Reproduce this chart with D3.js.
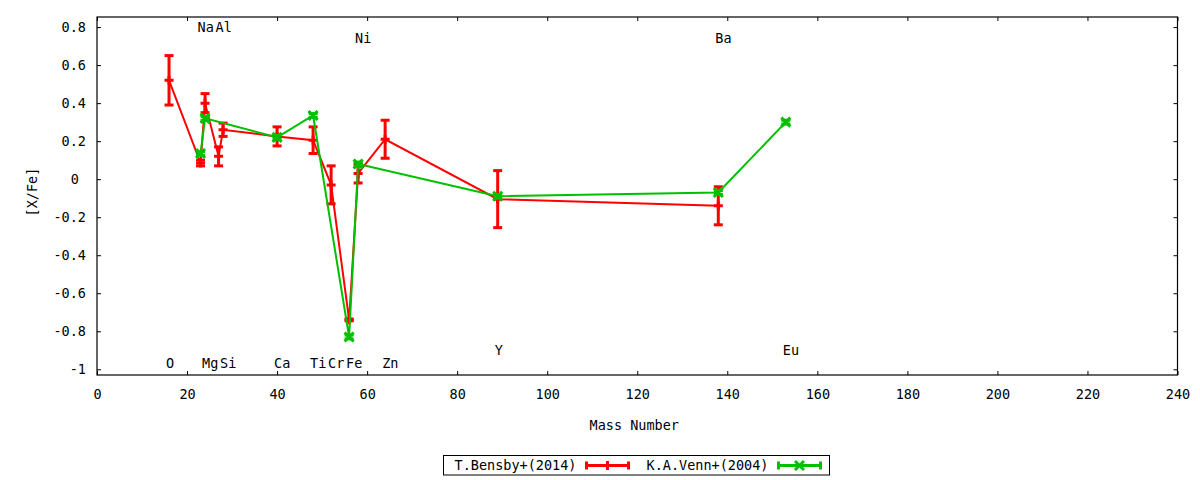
<!DOCTYPE html>
<html>
<head>
<meta charset="utf-8">
<script src="https://cdn.jsdelivr.net/npm/d3@7"></script>
<style>
  body { margin: 0; background: #fff; }
  svg text { font-family: 'DejaVu Sans Mono', monospace; font-size: 13.5px; fill: #000; }
</style>
</head>
<body>
<svg width="1200" height="480"></svg>
<script>
// T.Bensby+(2014)
const bensbyMass = [16, 23, 24, 27, 28, 40, 48, 52, 56, 58, 64, 89, 138];
const bensbyVal  = [0.52, 0.085, 0.40, 0.12, 0.26, 0.225, 0.205, -0.03, -0.74, 0.03, 0.21, -0.105, -0.14];
const bensbyErr  = [0.13, 0.015, 0.05, 0.05, 0.035, 0.05, 0.07, 0.10, 0.005, 0.05, 0.10, 0.15, 0.10];

// K.A.Venn+(2004)
const vennMass = [23, 24, 40, 48, 56, 58, 89, 138, 153];
const vennVal  = [0.135, 0.32, 0.22, 0.335, -0.83, 0.08, -0.09, -0.07, 0.30];
const vennErr  = [0.01, 0.01, 0.01, 0.01, 0.01, 0.01, 0.01, 0.01, 0.01];

// element labels
const elemName = ['O', 'Na', 'Mg', 'Al', 'Si', 'Ca', 'Ti', 'Cr', 'Fe', 'Ni', 'Zn', 'Y', 'Ba', 'Eu'];
const elemMass = [16, 23, 24, 27, 28, 40, 48, 52, 56, 58, 64, 89, 138, 153];
const elemPos  = [-0.97, 0.80, -0.97, 0.80, -0.97, -0.97, -0.97, -0.97, -0.97, 0.74, -0.97, -0.90, 0.74, -0.90];

const xTicks = d3.range(0, 241, 20);
const yTicks = [0.8, 0.6, 0.4, 0.2, 0, -0.2, -0.4, -0.6, -0.8, -1];

const margin = { left: 97, top: 17, right: 22.5, bottom: 105 };
const svg = d3.select('svg');
const width = +svg.attr('width');
const height = +svg.attr('height');
const innerWidth = width - margin.left - margin.right;
const innerHeight = height - margin.top - margin.bottom;

const g = svg.append('g')
    .attr('transform', `translate(${margin.left},${margin.top})`);

const xScale = d3.scaleLinear().domain([0, 240]).range([0, innerWidth]);
const yScale = d3.scaleLinear().domain([-1.03, 0.853]).range([innerHeight, 0]);

const fmt = d => (d3.format('')(d)).replace('\u2212', '-');

// axes with inward ticks, mirrored
const xAxisG = g.append('g').attr('transform', `translate(0,${innerHeight})`)
  .call(d3.axisBottom(xScale).tickValues(xTicks).tickSize(-4).tickPadding(14).tickFormat(fmt));
const xTopG = g.append('g')
  .call(d3.axisTop(xScale).tickValues(xTicks).tickSize(-4));
const yAxisG = g.append('g')
  .call(d3.axisLeft(yScale).tickValues(yTicks).tickSize(-4).tickPadding(11).tickFormat(fmt));
const yRightG = g.append('g').attr('transform', `translate(${innerWidth},0)`)
  .call(d3.axisRight(yScale).tickValues(yTicks).tickSize(-4));

// mirror axes carry only tick marks
xTopG.selectAll('text').remove();
yRightG.selectAll('text').remove();

[xAxisG, xTopG, yAxisG, yRightG].forEach(a => {
  a.select('.domain').remove();
  a.selectAll('line').attr('stroke', '#000');
  a.selectAll('text').attr('fill', '#000');
  a.attr('font-size', null).attr('font-family', null);
});
// gnuplot leaves the lone zero a little left of the others
yAxisG.selectAll('.tick text').filter(d => d === 0).attr('dx', -7);

g.append('rect')
  .attr('width', innerWidth).attr('height', innerHeight)
  .attr('fill', 'none').attr('stroke', '#000').attr('stroke-width', 1.2);

// axis labels
svg.append('text')
  .attr('x', margin.left + innerWidth / 2 - 3)
  .attr('y', 430)
  .attr('text-anchor', 'middle')
  .text('Mass Number');

svg.append('text')
  .attr('transform', 'translate(37,192) rotate(-90)')
  .attr('text-anchor', 'middle')
  .text('[X/Fe]');

// element labels
g.selectAll('.elem').data(elemName)
  .enter().append('text')
    .attr('class', 'elem')
    .attr('x', (d, i) => xScale(elemMass[i]) - 3)
    .attr('y', (d, i) => yScale(elemPos[i]))
    .attr('dy', '0.36em')
    .text(d => d);

const line = d3.line().x(d => xScale(d.m)).y(d => yScale(d.v));

const bensby = bensbyMass.map((m, i) => ({ m, v: bensbyVal[i], e: bensbyErr[i] }));
const venn = vennMass.map((m, i) => ({ m, v: vennVal[i], e: vennErr[i] }));

function drawSeries(data, color, marker) {
  const sg = g.append('g');
  sg.append('path')
    .datum(data)
    .attr('d', line)
    .attr('fill', 'none')
    .attr('stroke', color)
    .attr('stroke-width', 2);
  const bars = sg.selectAll('.bar').data(data).enter().append('g');
  bars.append('line')
    .attr('x1', d => xScale(d.m)).attr('x2', d => xScale(d.m))
    .attr('y1', d => yScale(d.v + d.e)).attr('y2', d => yScale(d.v - d.e))
    .attr('stroke', color).attr('stroke-width', 3);
  [1, -1].forEach(s => {
    bars.append('line')
      .attr('x1', d => xScale(d.m) - 4.5).attr('x2', d => xScale(d.m) + 4.5)
      .attr('y1', d => yScale(d.v + s * d.e)).attr('y2', d => yScale(d.v + s * d.e))
      .attr('stroke', color).attr('stroke-width', 3);
  });
  bars.append('path')
    .attr('transform', d => `translate(${xScale(d.m)},${yScale(d.v)})`)
    .attr('d', marker)
    .attr('fill', 'none')
    .attr('stroke', color)
    .attr('stroke-width', 3);
}

const plusMarker = 'M-4.5,0H4.5M0,-4.5V4.5';
const crossMarker = 'M-4.5,-4.5L4.5,4.5M-4.5,4.5L4.5,-4.5';

drawSeries(bensby, '#ff0000', plusMarker);
drawSeries(venn, '#00c000', crossMarker);

// legend
const legendNames = ['T.Bensby+(2014)', 'K.A.Venn+(2004)'];
const legendColors = ['#ff0000', '#00c000'];
const legendMarkers = [plusMarker, crossMarker];
const lg = svg.append('g');
lg.append('rect')
  .attr('x', 443.5).attr('y', 455.5).attr('width', 386).attr('height', 19.5)
  .attr('fill', 'none').attr('stroke', '#000').attr('stroke-width', 1);
legendNames.forEach((name, i) => {
  const x0 = 443.5 + i * 192;
  lg.append('text')
    .attr('x', x0 + 133).attr('y', 465.5)
    .attr('dy', '0.36em')
    .attr('text-anchor', 'end')
    .text(name);
  const sx1 = x0 + 143, sx2 = x0 + 185, sy = 465.5;
  lg.append('line').attr('x1', sx1).attr('x2', sx2).attr('y1', sy).attr('y2', sy)
    .attr('stroke', legendColors[i]).attr('stroke-width', 3);
  [sx1, sx2].forEach(sx => {
    lg.append('line').attr('x1', sx).attr('x2', sx).attr('y1', sy - 4).attr('y2', sy + 4)
      .attr('stroke', legendColors[i]).attr('stroke-width', 3);
  });
  lg.append('path')
    .attr('transform', `translate(${(sx1 + sx2) / 2},${sy})`)
    .attr('d', legendMarkers[i])
    .attr('fill', 'none').attr('stroke', legendColors[i]).attr('stroke-width', 3);
});
</script>
</body>
</html>
